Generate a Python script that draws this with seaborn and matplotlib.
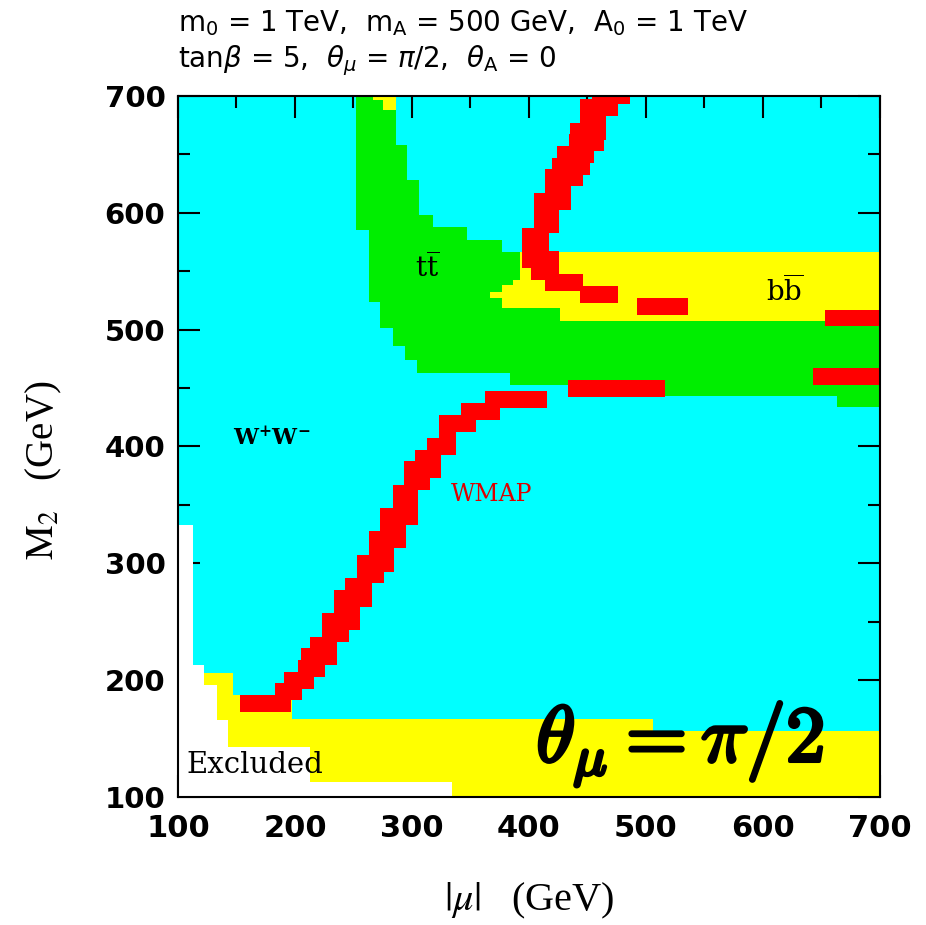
import numpy as np
import pandas as pd
import matplotlib
matplotlib.use("Agg")
import matplotlib.pyplot as plt
import matplotlib.patheffects as pe
from matplotlib.ticker import MultipleLocator
import seaborn as sns

# ---------------- data ----------------
mu_ticks = [100, 200, 300, 400, 500, 600, 700]
m2_ticks = [100, 200, 300, 400, 500, 600, 700]

# Excluded (white) region: step edges in |mu| and upper M2 boundary
excl_mu = [100, 112.5, 122.5, 133, 143, 212.8, 334]
excl_top = [333, 213, 195.9, 165.9, 143.1, 113.1, 113.1]

# Lower yellow band
ylo_mu = [122.5, 133, 143, 146.7, 197.2, 212.8, 334, 506, 700]
ylo_bot = [195.9, 165.9, 143.1, 143.1, 143.1, 113.1, 100, 100, 100]
ylo_top = [206.4, 206.4, 206.4, 187.3, 166.8, 166.8, 166.8, 156.5, 156.5]

# Green (t tbar) region
grn_mu = [252.1, 263.2, 272.6, 283.5, 286.3, 294, 296, 304, 306.3, 318.2,
          346.7, 376.6, 383.8, 433.6, 516.3, 663, 700]
grn_bot = [585.5, 524.1, 501.3, 485.6, 485.6, 474.2, 474.2, 462.8, 462.8, 462.8,
           462.8, 462.8, 452.7, 447, 442.8, 434.2, 434.2]
grn_top = [700, 700, 700, 700, 658.3, 658.3, 628.3, 628.3, 598.3, 588.3,
           576.9, 566.9, 566.9, 566.9, 566.9, 566.9, 566.9]

# Upper yellow (b bbar) band
yhi_mu = [366.7, 376.7, 386.6, 392.3, 426.5, 700]
yhi_bot = [527, 518.4, 518.4, 518.4, 507, 507]
yhi_top = [532.6, 538.4, 542.6, 566.9, 566.9, 566.9]

# small yellow patch at the top of the green region
ytp_mu = [266.9, 275.5, 286.3]
ytp_bot = [696.8, 688.2, 688.2]
ytp_top = [700, 700, 700]

# WMAP-allowed points, grouped in rows of M2 with |mu| extent
wmap_m2 = [180, 190, 200, 210, 220, 230, 240, 250, 260, 270, 280, 290, 300,
           310, 320, 330, 340, 350, 360, 370, 380, 390, 400, 410, 420, 430, 440,
           450, 460, 510, 520, 530, 540, 550, 560, 570, 580, 590, 600, 610, 620,
           630, 640, 650, 660, 670, 680, 690, 700]
wmap_lo = [153, 183, 191, 203, 205, 213, 223, 223, 233, 233, 243, 253, 253,
           263, 263, 273, 273, 284, 284, 293, 293, 303, 313, 323, 323, 342, 362,
           433, 643, 653, 492, 444, 414, 402, 394, 394, 394, 404, 404, 404, 414,
           414, 420, 424, 434, 435, 444, 444, 454]
wmap_hi = [197, 206, 216, 226, 236, 236, 246, 256, 256, 266, 266, 276, 285,
           285, 295, 295, 305, 305, 305, 315, 325, 325, 338, 338, 355, 375, 415,
           516, 700, 700, 536, 476, 446, 426, 426, 417, 417, 426, 426, 436, 436,
           446, 452, 456, 464, 466, 466, 476, 486]

wmap = pd.DataFrame({"M2": wmap_m2, "lo": wmap_lo, "hi": wmap_hi})

CYAN = "#00ffff"
GREEN = "#00ee00"
YELLOW = "#ffff00"
RED = "#ff0000"

# ---------------- figure ----------------
sns.set_style("ticks")
plt.rcParams['font.family'] = ['DejaVu Sans']
plt.rcParams['axes.linewidth'] = 1.5
for k in ['text.color', 'axes.labelcolor', 'xtick.color', 'ytick.color',
          'axes.edgecolor']:
    plt.rcParams[k] = 'black'

fig = plt.figure(figsize=(9.26, 9.25), dpi=100)
ax = fig.add_axes([0.1922, 0.1384, 0.7581, 0.7578])
ax.set_facecolor(CYAN)
ax.set_xlim(100, 700)
ax.set_ylim(100, 700)

ax.fill_between(excl_mu, 100, excl_top, step='post', color='white', lw=0)
ax.fill_between(ylo_mu, ylo_bot, ylo_top, step='post', color=YELLOW, lw=0)
ax.fill_between(grn_mu, grn_bot, grn_top, step='post', color=GREEN, lw=0)
ax.fill_between(yhi_mu, yhi_bot, yhi_top, step='post', color=YELLOW, lw=0)
ax.fill_between(ytp_mu, ytp_bot, ytp_top, step='post', color=YELLOW, lw=0)

ax.barh(wmap["M2"], wmap["hi"] - wmap["lo"], left=wmap["lo"], height=14.5,
        color=RED, lw=0)

for s in ax.spines.values():
    s.set_visible(True)
    s.set_color('black')
    s.set_linewidth(1.5)
    s.set_zorder(5)

ax.set_xticks(mu_ticks)
ax.set_yticks(m2_ticks)
ax.xaxis.set_minor_locator(MultipleLocator(50))
ax.yaxis.set_minor_locator(MultipleLocator(50))
ax.tick_params(which='both', direction='in', top=True, right=True,
               width=1.5, color='black', zorder=6)
ax.tick_params(which='major', length=16)
ax.tick_params(which='minor', length=8.5)
ax.tick_params(axis='x', which='major', pad=12)
ax.tick_params(axis='y', which='major', pad=9)
for lab in ax.get_xticklabels():
    lab.set_fontweight('bold')
    lab.set_fontsize(22)
for lab in ax.get_yticklabels():
    lab.set_fontweight('bold')
    lab.set_fontsize(21)

ax.set_xlabel(r"$|\mu|$   (GeV)", fontsize=29, family=['Liberation Serif'],
              math_fontfamily='stix')
ax.xaxis.set_label_coords(0.500, -0.120)
ax.set_ylabel(r"$\mathrm{M_2}$   (GeV)", fontsize=28, family=['Liberation Serif'],
              math_fontfamily='stix')
ax.yaxis.set_label_coords(-0.162, 0.466)

# region labels
ax.text(313, 553, r"$\mathrm{t}\overline{\mathrm{t}}$", fontsize=20,
        math_fontfamily='dejavuserif', ha='center', va='center', zorder=7)
ax.text(619, 533, r"$\mathrm{b}\overline{\mathrm{b}}$", fontsize=20,
        math_fontfamily='dejavuserif', ha='center', va='center', zorder=7)
ax.text(180, 408, r"$\mathbf{W^{+}W^{-}}$", fontsize=16,
        math_fontfamily='dejavuserif', ha='center', va='center', zorder=7)
ax.text(368, 359, "WMAP", fontsize=17, family=['DejaVu Serif'], color='#dd0000',
        ha='center', va='center', zorder=7)
ax.text(107.5, 127, "Excluded", fontsize=21, family=['DejaVu Serif'],
        ha='left', va='center', zorder=7)
big = ax.text(529, 145, r"$\theta_\mu = \pi/2$", fontsize=57, math_fontfamily='cm',
              ha='center', va='center', zorder=7)
big.set_path_effects([pe.withStroke(linewidth=2.6, foreground='black')])

# header lines
fig.text(178 / 926, 1 - 31 / 925,
         r"$\mathrm{m_0}$ = 1 TeV,  $\mathrm{m_A}$ = 500 GeV,  $\mathrm{A_0}$ = 1 TeV",
         fontsize=20, math_fontfamily='dejavusans', ha='left', va='baseline')
fig.text(178 / 926, 1 - 67 / 925,
         r"tan$\beta$ = 5,  $\theta_\mu$ = $\pi$/2,  $\theta_\mathrm{A}$ = 0",
         fontsize=20, math_fontfamily='dejavusans', ha='left', va='baseline')

fig.savefig("out.png", dpi=100)
